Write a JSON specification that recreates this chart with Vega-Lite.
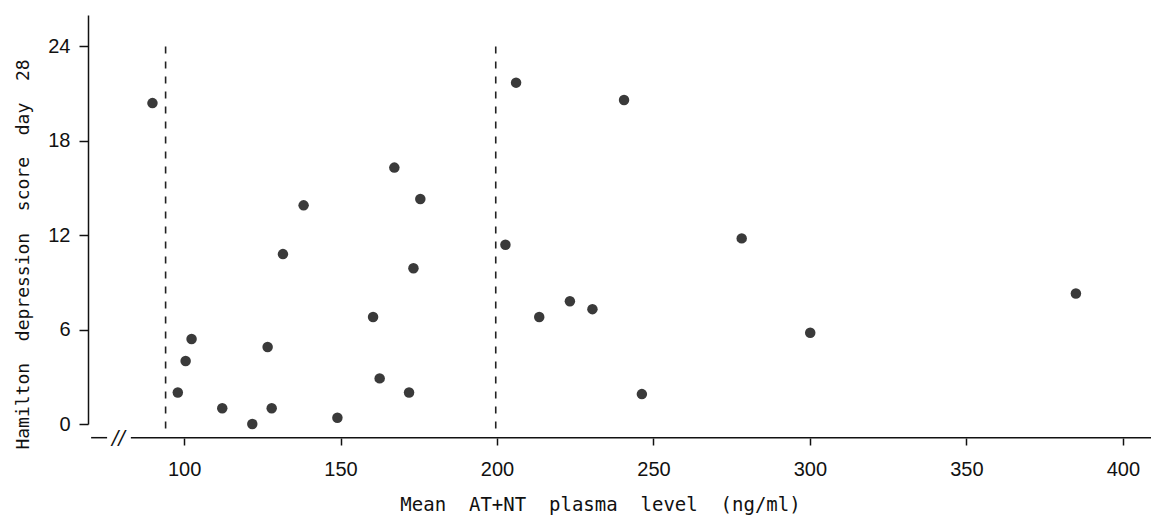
{
  "$schema": "https://vega.github.io/schema/vega-lite/v6.json",
  "width": 1063,
  "height": 409,
  "autosize": {"type": "none"},
  "padding": {"left": 88, "top": 15, "right": 0, "bottom": 96},
  "background": "white",
  "config": {"view": {"stroke": null}, "font": "DejaVu Sans"},
  "datasets": {
    "points": [
      {"plasma": 89.9, "hamd": 20.4},
      {"plasma": 98.0, "hamd": 2.0},
      {"plasma": 100.5, "hamd": 4.0},
      {"plasma": 102.4, "hamd": 5.4},
      {"plasma": 112.2, "hamd": 1.0},
      {"plasma": 121.8, "hamd": 0.0},
      {"plasma": 128.0, "hamd": 1.0},
      {"plasma": 126.7, "hamd": 4.9},
      {"plasma": 131.6, "hamd": 10.8},
      {"plasma": 138.2, "hamd": 13.9},
      {"plasma": 149.0, "hamd": 0.4},
      {"plasma": 160.4, "hamd": 6.8},
      {"plasma": 162.5, "hamd": 2.9},
      {"plasma": 167.2, "hamd": 16.3},
      {"plasma": 175.5, "hamd": 14.3},
      {"plasma": 173.3, "hamd": 9.9},
      {"plasma": 171.9, "hamd": 2.0},
      {"plasma": 202.7, "hamd": 11.4},
      {"plasma": 206.1, "hamd": 21.7},
      {"plasma": 240.6, "hamd": 20.6},
      {"plasma": 213.5, "hamd": 6.8},
      {"plasma": 223.3, "hamd": 7.8},
      {"plasma": 230.5, "hamd": 7.3},
      {"plasma": 246.3, "hamd": 1.9},
      {"plasma": 278.2, "hamd": 11.8},
      {"plasma": 300.1, "hamd": 5.8},
      {"plasma": 385.0, "hamd": 8.3}
    ],
    "cutoffs": [
      {"plasma": 94.1, "hamd": 24, "bottom": -0.55},
      {"plasma": 199.6, "hamd": 24, "bottom": -0.55}
    ],
    "axisSegments": [
      {"plasma": 70.3, "end": 75.4, "hamd": -0.87},
      {"plasma": 83.0, "end": 409, "hamd": -0.87}
    ],
    "axisBreak": [
      {"plasma": 79.05, "hamd": -0.87, "label": "//"}
    ]
  },
  "encoding": {
    "x": {
      "field": "plasma",
      "type": "quantitative",
      "scale": {"domain": [69.3, 409], "nice": false, "zero": false},
      "axis": {
        "values": [100, 150, 200, 250, 300, 350, 400],
        "offset": 14,
        "domain": false,
        "grid": false,
        "tickSize": 7,
        "tickWidth": 1.5,
        "tickColor": "#111",
        "labelFont": "Liberation Sans",
        "labelFontSize": 20,
        "labelColor": "#111",
        "labelPadding": 14,
        "title": "Mean\u00a0 AT+NT\u00a0 plasma\u00a0 level\u00a0 (ng/ml)",
        "titleFont": "DejaVu Sans Mono",
        "titleFontSize": 19,
        "titleFontWeight": "normal",
        "titleColor": "#111",
        "titleX": 512,
        "titleY": 72,
        "titleAlign": "center",
        "titleBaseline": "alphabetic"
      }
    },
    "y": {
      "field": "hamd",
      "type": "quantitative",
      "scale": {"domain": [0, 26], "nice": false, "zero": false},
      "axis": {
        "values": [0, 6, 12, 18, 24],
        "domain": true,
        "domainColor": "#111",
        "domainWidth": 1.5,
        "grid": false,
        "tickSize": 9,
        "tickWidth": 1.5,
        "tickColor": "#111",
        "labelFont": "Liberation Sans",
        "labelFontSize": 20,
        "labelColor": "#111",
        "labelPadding": 9,
        "title": "Hamilton\u00a0 depression\u00a0 score\u00a0 day\u00a0 28",
        "titleFont": "DejaVu Sans Mono",
        "titleFontSize": 18,
        "titleFontWeight": "normal",
        "titleColor": "#111",
        "titleX": -65,
        "titleY": 239,
        "titleAlign": "center",
        "titleBaseline": "middle"
      }
    }
  },
  "layer": [
    {
      "data": {"name": "points"},
      "mark": {"type": "point", "filled": true, "shape": "circle", "size": 110, "color": "#3a3a3a", "opacity": 1}
    },
    {
      "data": {"name": "cutoffs"},
      "mark": {"type": "rule", "color": "#222", "strokeWidth": 1.6, "strokeDash": [7, 8]},
      "encoding": {
        "y2": {"field": "bottom"}
      }
    },
    {
      "data": {"name": "axisSegments"},
      "mark": {"type": "rule", "color": "#111", "strokeWidth": 1.5},
      "encoding": {
        "x2": {"field": "end"}
      }
    },
    {
      "data": {"name": "axisBreak"},
      "mark": {"type": "text", "font": "DejaVu Sans", "fontSize": 19, "fontStyle": "italic", "color": "#111", "align": "center", "baseline": "middle"},
      "encoding": {
        "text": {"field": "label"}
      }
    }
  ]
}
